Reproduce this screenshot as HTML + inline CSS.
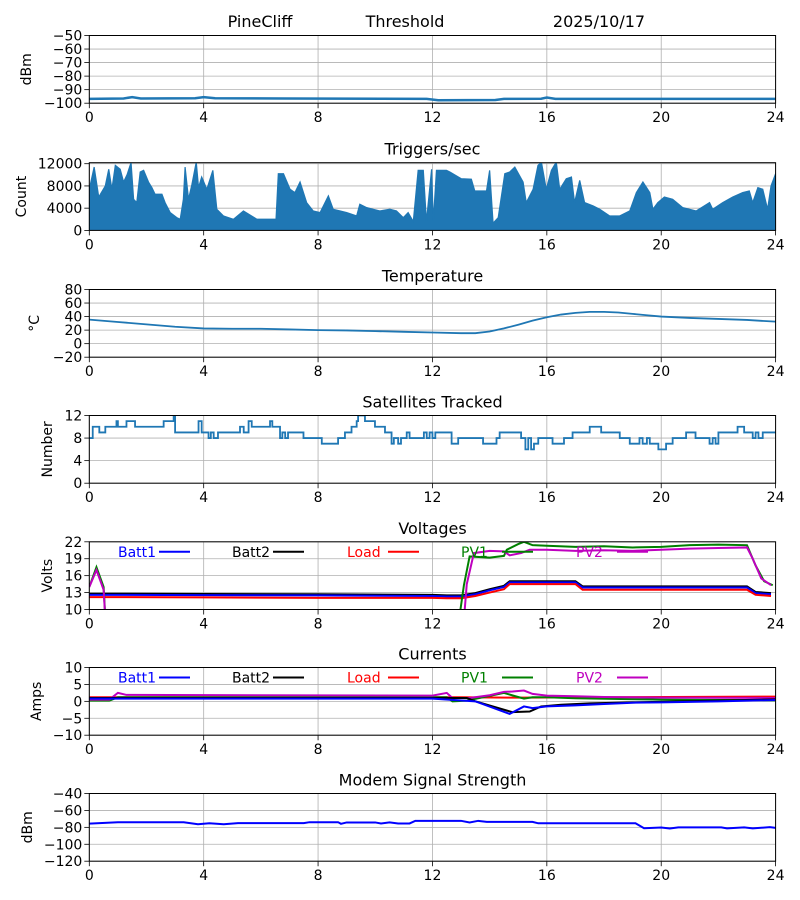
<!DOCTYPE html>
<html><head><meta charset="utf-8"><style>
html,body{margin:0;padding:0;background:#fff;}
svg{display:block;font-family:"DejaVu Sans","Liberation Sans",sans-serif;}
</style></head><body>
<svg id="chart" width="800" height="900" viewBox="0 0 800 900" xmlns="http://www.w3.org/2000/svg">
<text x="260" y="27" font-size="16" text-anchor="middle">PineCliff</text>
<text x="405" y="27" font-size="16" text-anchor="middle">Threshold</text>
<text x="599" y="27" font-size="16" text-anchor="middle">2025/10/17</text>
</svg>
<script>
// ---- data ----
const xTicks=[0,4,8,12,16,20,24];
const thrH=[0,1.2,1.5,1.8,3.7,4,4.4,6.8,11.8,12.2,14.2,14.5,15.8,16,16.3,24];
const thrV=[-96.8,-96.5,-95.5,-96.5,-96.3,-95.5,-96.3,-96.5,-96.8,-97.8,-97.6,-96.8,-96.7,-95.8,-96.8,-96.8];
const trH=[0,0.17,0.33,0.56,0.68,0.79,0.91,1.08,1.2,1.32,1.46,1.55,1.66,1.78,1.9,2.07,2.19,2.3,2.54,2.65,2.83,3.06,3.18,3.29,3.35,3.47,3.59,3.74,3.82,3.93,4.11,4.32,4.46,4.69,5.04,5.39,5.86,6.53,6.61,6.79,7.02,7.19,7.37,7.6,7.83,8.07,8.36,8.53,8.77,9.0,9.35,9.46,9.7,9.93,10.16,10.51,10.74,10.98,11.15,11.33,11.5,11.68,11.79,11.97,12.03,12.14,12.49,12.61,13.01,13.36,13.48,13.89,14.0,14.12,14.3,14.53,14.7,14.88,15.17,15.28,15.52,15.69,15.81,15.98,16.16,16.33,16.45,16.68,16.86,16.97,17.15,17.32,17.62,17.85,18.2,18.55,18.9,19.13,19.36,19.6,19.71,19.88,20.11,20.4,20.75,21.22,21.69,21.8,22.15,22.5,22.85,23.08,23.2,23.38,23.55,23.72,23.84,24];
const trV=[7400,11400,6000,8000,11000,7400,11700,11000,8700,10000,12200,5600,5000,10500,10800,8700,7700,6500,6500,5000,3200,2300,2000,5600,11400,5600,8300,12300,7700,9600,7400,10800,3800,2600,2000,3500,2000,2000,10200,10200,7400,6800,8700,5000,3500,3200,6200,3800,3500,3200,2600,4700,4100,3800,3500,3800,3500,2300,3200,1600,10800,10800,1600,11000,1600,10800,10800,10500,9300,9200,7100,7100,10800,1300,2300,10200,10500,11400,8700,5000,7400,11700,12300,7400,10800,12300,7400,9300,9600,5000,9000,5000,4400,3800,2600,2600,3500,6800,8700,6800,3800,5000,6000,5600,4100,3500,5000,3800,5000,6000,6800,7100,5000,7700,7400,3800,8000,10200];
const tempH=[0,1,2,3,4,5,6,7,8,9,10,11,12,13,13.5,14,14.5,15,15.5,16,16.5,17,17.5,18,18.5,19,19.5,20,21,22,23,24];
const tempV=[35.5,32,28.5,25,22.5,22,22,21,20,19.5,18.5,17.5,16.5,15.5,15.5,18,22.5,28,34,39,43,45.5,47,47,46,44,42,40,38,36.5,35,32.5];
const satH=[0,0.12,0.35,0.56,0.95,1.0,1.3,1.6,2.6,2.95,
 3.0,3.2,3.82,3.93,4.17,4.25,4.35,4.5,5.27,5.4,
 5.57,5.68,6.32,6.4,6.67,6.75,6.85,6.95,7.0,7.49,
 8.13,8.7,8.94,9.17,9.35,9.4,9.64,9.99,10.34,10.57,
 10.65,10.8,10.9,11.1,11.2,11.7,11.8,11.9,12.0,12.1,
 12.67,12.9,13.77,14.24,14.35,15.1,15.25,15.35,15.45,15.55,
 15.7,16.2,16.6,16.9,17.5,17.9,18.55,18.9,19.24,19.35,
 19.5,19.6,19.9,20.17,20.4,20.87,21.2,21.69,21.8,21.9,
 22.0,22.67,22.9,23.2,23.3,23.4,23.55,24];
const satV=[8,10,9,10,11,10,11,10,11,12,
 9,9,11,9,8,9,8,9,10,9,
 11,10,11,10,8,9,8,9,9,8,
 7,8,9,10,11,12,11,10,9,7,
 8,7,8,9,8,9,8,9,8,9,
 7,8,7,8,9,8,6,8,6,7,
 8,7,8,9,10,9,8,7,8,7,
 8,7,6,7,8,9,8,7,8,7,
 9,10,9,8,9,8,9,9];
const vbH=[0,4,8,12,12.5,13,13.5,14,14.5,14.7,17,17.25,23,23.3,23.84];
const vBatt2=[12.8,12.75,12.7,12.6,12.5,12.5,12.9,13.6,14.2,15.0,15.0,14.1,14.1,13.1,12.9];
const vBatt1=[12.6,12.55,12.5,12.4,12.3,12.3,12.7,13.4,14.0,14.8,14.8,13.9,13.9,12.9,12.7];
const vLoad=[12.2,12.15,12.05,12.05,12.0,12.0,12.4,13.0,13.6,14.5,14.5,13.5,13.5,12.6,12.4];
const pv1H=[0,0.25,0.5,0.6,12.84,13.1,13.3,14.0,14.5,14.6,15.0,15.2,15.5,16,17,18,19,20,21,22,23,23.3,23.6,23.9];
const vPv1=[14,17.5,14,5,5,14.3,19.4,19.2,19.5,20.6,21.6,22,21.4,21.3,21.1,21.2,21.0,21.1,21.4,21.5,21.4,17.8,15,14.3];
const pv2H=[0,0.25,0.5,0.6,13.05,13.2,13.45,14.0,14.5,14.7,15.1,15.4,16,17,18,19,20,21,22,23,23.2,23.5,23.84];
const vPv2=[14,17,13.5,5,5,14.5,20,20.4,20.3,19.6,20,20.6,20.6,20.4,20.5,20.4,20.6,20.8,20.9,21,19,15.5,14.3];
const ib1H=[0,12,13.5,14.7,15.2,15.5,16,17,18,19,20,22,24];
const iBatt1=[0.8,0.8,0,-3.7,-1.5,-2,-1.5,-1.2,-0.8,-0.4,-0.3,0,0.4];
const ib2H=[0,12,13.2,13.5,14.8,15.4,15.8,16.5,17.5,19,24];
const iBatt2=[1.0,1.0,1.0,0,-3.2,-3,-1.5,-1,-0.6,-0.3,0.6];
const ildH=[0,12,13,15,24];
const iLoad=[1.2,1.2,1.2,1.1,1.4];
const ip1H=[0,0.7,1.0,12,12.5,12.7,13.2,14.5,14.9,15.2,15.5,16,17,20,24];
const iPv1=[0.2,0.2,1.2,1.2,1.2,0,0.2,2.5,1.5,0.8,1.2,1.2,0.9,0.5,0.3];
const ip2H=[0,0.7,1.0,1.3,12,12.5,12.7,13.3,14.0,14.5,14.8,15.2,15.5,16,17,18,20,24];
const iPv2=[0.5,0.5,2.5,1.9,1.7,2.5,1.0,1.0,1.8,2.8,2.9,3.2,2.2,1.7,1.5,1.3,1.1,1.0];
const modH=[0,1,3.3,3.8,4.2,4.7,5.2,7.5,7.7,8.7,8.8,9,10,10.2,10.5,10.8,11.2,11.4,13,13.3,13.6,13.9,15.5,15.7,19.1,19.4,20,20.3,20.6,22.1,22.3,22.9,23.2,23.8,24];
const modV=[-75.6,-74,-74,-76.4,-75.2,-76.4,-75,-75,-73.9,-73.9,-75.8,-74.2,-74.2,-75.4,-74.2,-75.4,-75.4,-72.3,-72.3,-74.3,-72.3,-73.5,-73.5,-75.2,-75.2,-81,-80.2,-81.4,-80,-80,-81.2,-80,-81.2,-79.8,-80.6];
const legendNames=["Batt1","Batt2","Load","PV1","PV2"];

// ---- layout ----
const NS="http://www.w3.org/2000/svg";
const svg=document.getElementById('chart');
const X0=89.3,X1=775.6,PH=67.7;
function xs(h){return X0+(h/24)*(X1-X0);}
function mk(tag,attrs,name,parent,inter){
  const el=document.createElementNS(NS,tag);
  for(const k in attrs) el.setAttribute(k,attrs[k]);
  
  
  (parent||svg).appendChild(el);return el;
}
function fmt(v){return v<0?'\u2212'+Math.abs(v):String(v);}
const panels=[
 {key:'threshold',top:35.5,min:-100,max:-50,ticks:[-100,-90,-80,-70,-60,-50],label:'dBm',lx:27,title:null},
 {key:'triggers',top:162.7,min:0,max:12180,ticks:[0,4000,8000,12000],label:'Count',lx:22,title:'Triggers/sec'},
 {key:'temperature',top:289.5,min:-20,max:80,ticks:[-20,0,20,40,60,80],label:'\u00B0C',lx:35,title:'Temperature'},
 {key:'satellites',top:415.5,min:0,max:12,ticks:[0,4,8,12],label:'Number',lx:48,title:'Satellites Tracked'},
 {key:'voltages',top:541.8,min:10,max:22,ticks:[10,13,16,19,22],label:'Volts',lx:48,title:'Voltages'},
 {key:'currents',top:667.5,min:-10,max:10,ticks:[-10,-5,0,5,10],label:'Amps',lx:37,title:'Currents'},
 {key:'modem',top:793.5,min:-120,max:-40,ticks:[-120,-100,-80,-60,-40],label:'dBm',lx:28,title:'Modem Signal Strength'}
];
function ysFor(p){return v=>p.top+PH-(v-p.min)/(p.max-p.min)*PH;}
function linePath(H,V,ys){return H.map((h,i)=>(i?'L':'M')+xs(h).toFixed(2)+','+ys(V[i]).toFixed(2)).join(' ');}
function stepPath(H,V,ys){let d='M'+xs(H[0])+','+ys(V[0]);for(let i=1;i<H.length;i++){d+=' L'+xs(H[i])+','+ys(V[i-1])+' L'+xs(H[i])+','+ys(V[i]);}return d;}

const P={};
panels.forEach((p,pi)=>{
  const g=mk('g',{},p.key+'-panel');
  const ys=ysFor(p);P[p.key]={g,ys,p};
  const bot=p.top+PH;
  const cp=mk('clipPath',{id:'clip'+pi},p.key+'-clip',g);
  mk('rect',{x:X0,y:p.top,width:X1-X0,height:PH},p.key+'-clip-rect',cp);
  xTicks.forEach(t=>{
    mk('line',{x1:xs(t),x2:xs(t),y1:p.top,y2:bot,stroke:'#b0b0b0','stroke-width':0.8},p.key+'-x-grid-'+t,g);
    mk('line',{x1:xs(t),x2:xs(t),y1:bot,y2:bot+5,stroke:'#000','stroke-width':0.8},p.key+'-x-tick-'+t,g);
    const tx=mk('text',{x:xs(t),y:bot+19,'font-size':14,'text-anchor':'middle'},p.key+'-x-tick-label-'+t,g);tx.textContent=t;
  });
  p.ticks.forEach(t=>{
    mk('line',{x1:X0,x2:X1,y1:ys(t),y2:ys(t),stroke:'#b0b0b0','stroke-width':0.8},p.key+'-y-grid',g);
    mk('line',{x1:X0-5,x2:X0,y1:ys(t),y2:ys(t),stroke:'#000','stroke-width':0.8},p.key+'-y-tick',g);
    const tx=mk('text',{x:X0-7,y:ys(t)+5,'font-size':14,'text-anchor':'end'},p.key+'-y-tick-label',g);tx.textContent=fmt(t);
  });
  const yl=mk('text',{x:p.lx,y:p.top+PH/2,'font-size':14,'text-anchor':'middle','dominant-baseline':'central',transform:'rotate(-90 '+p.lx+' '+(p.top+PH/2)+')'},p.key+'-y-axis-title',g);yl.textContent=p.label;
  if(p.title){const t=mk('text',{x:432.5,y:p.top-8,'font-size':16,'text-anchor':'middle'},p.key+'-title',g);t.textContent=p.title;}
  p.data=mk('g',{'clip-path':'url(#clip'+pi+')'},p.key+'-series',g);
});

// threshold
mk('path',{d:linePath(thrH,thrV,P.threshold.ys),fill:'none',stroke:'#1f77b4','stroke-width':2.5},'threshold-line',panels[0].data);
// triggers
(function(){const ys=P.triggers.ys;let d='M'+xs(trH[0])+','+ys(0)+' '+linePath(trH,trV,ys).replace('M','L')+' L'+xs(trH[trH.length-1])+','+ys(0)+' Z';
mk('path',{d:d,fill:'#1f77b4',stroke:'#1f77b4','stroke-width':1.2,'stroke-linejoin':'miter'},'triggers-area',panels[1].data);})();
// temperature
mk('path',{d:linePath(tempH,tempV,P.temperature.ys),fill:'none',stroke:'#1f77b4','stroke-width':1.8},'temperature-line',panels[2].data);
// satellites
mk('path',{d:stepPath(satH,satV,P.satellites.ys),fill:'none',stroke:'#1f77b4','stroke-width':1.8},'satellites-line',panels[3].data);
// voltages
const cols=['#0000ff','#000000','#ff0000','#008000','#bf00bf'];
[[vbH,vBatt2,1],[vbH,vBatt1,0],[vbH,vLoad,2],[pv1H,vPv1,3],[pv2H,vPv2,4]].forEach(s=>{
  mk('path',{d:linePath(s[0],s[1],P.voltages.ys),fill:'none',stroke:cols[s[2]],'stroke-width':2},'voltage-'+legendNames[s[2]].toLowerCase()+'-line',panels[4].data);
});
// currents
[[ildH,iLoad,2],[ip1H,iPv1,3],[ip2H,iPv2,4],[ib2H,iBatt2,1],[ib1H,iBatt1,0]].forEach(s=>{
  mk('path',{d:linePath(s[0],s[1],P.currents.ys),fill:'none',stroke:cols[s[2]],'stroke-width':2},'current-'+legendNames[s[2]].toLowerCase()+'-line',panels[5].data);
});
// modem
mk('path',{d:linePath(modH,modV,P.modem.ys),fill:'none',stroke:'#0000ff','stroke-width':2},'modem-line',panels[6].data);
// legends
const legX=[118,232,347,461,576];
['voltages','currents'].forEach(k=>{
  const p=P[k].p;const ly=p.top+10;
  legendNames.forEach((n,i)=>{
    const t=mk('text',{x:legX[i],y:ly+5,'font-size':14,fill:cols[i]},k+'-legend-'+n.toLowerCase()+'-label',P[k].g,true);t.textContent=n;
    mk('line',{x1:legX[i]+41,x2:legX[i]+72,y1:ly,y2:ly,stroke:cols[i],'stroke-width':2},k+'-legend-'+n.toLowerCase()+'-swatch',P[k].g);
  });
});
// frames
panels.forEach(p=>{mk('rect',{x:X0,y:p.top,width:X1-X0,height:PH,fill:'none',stroke:'#000','stroke-width':1},p.key+'-frame',P[p.key].g);});
</script>
</body></html>
